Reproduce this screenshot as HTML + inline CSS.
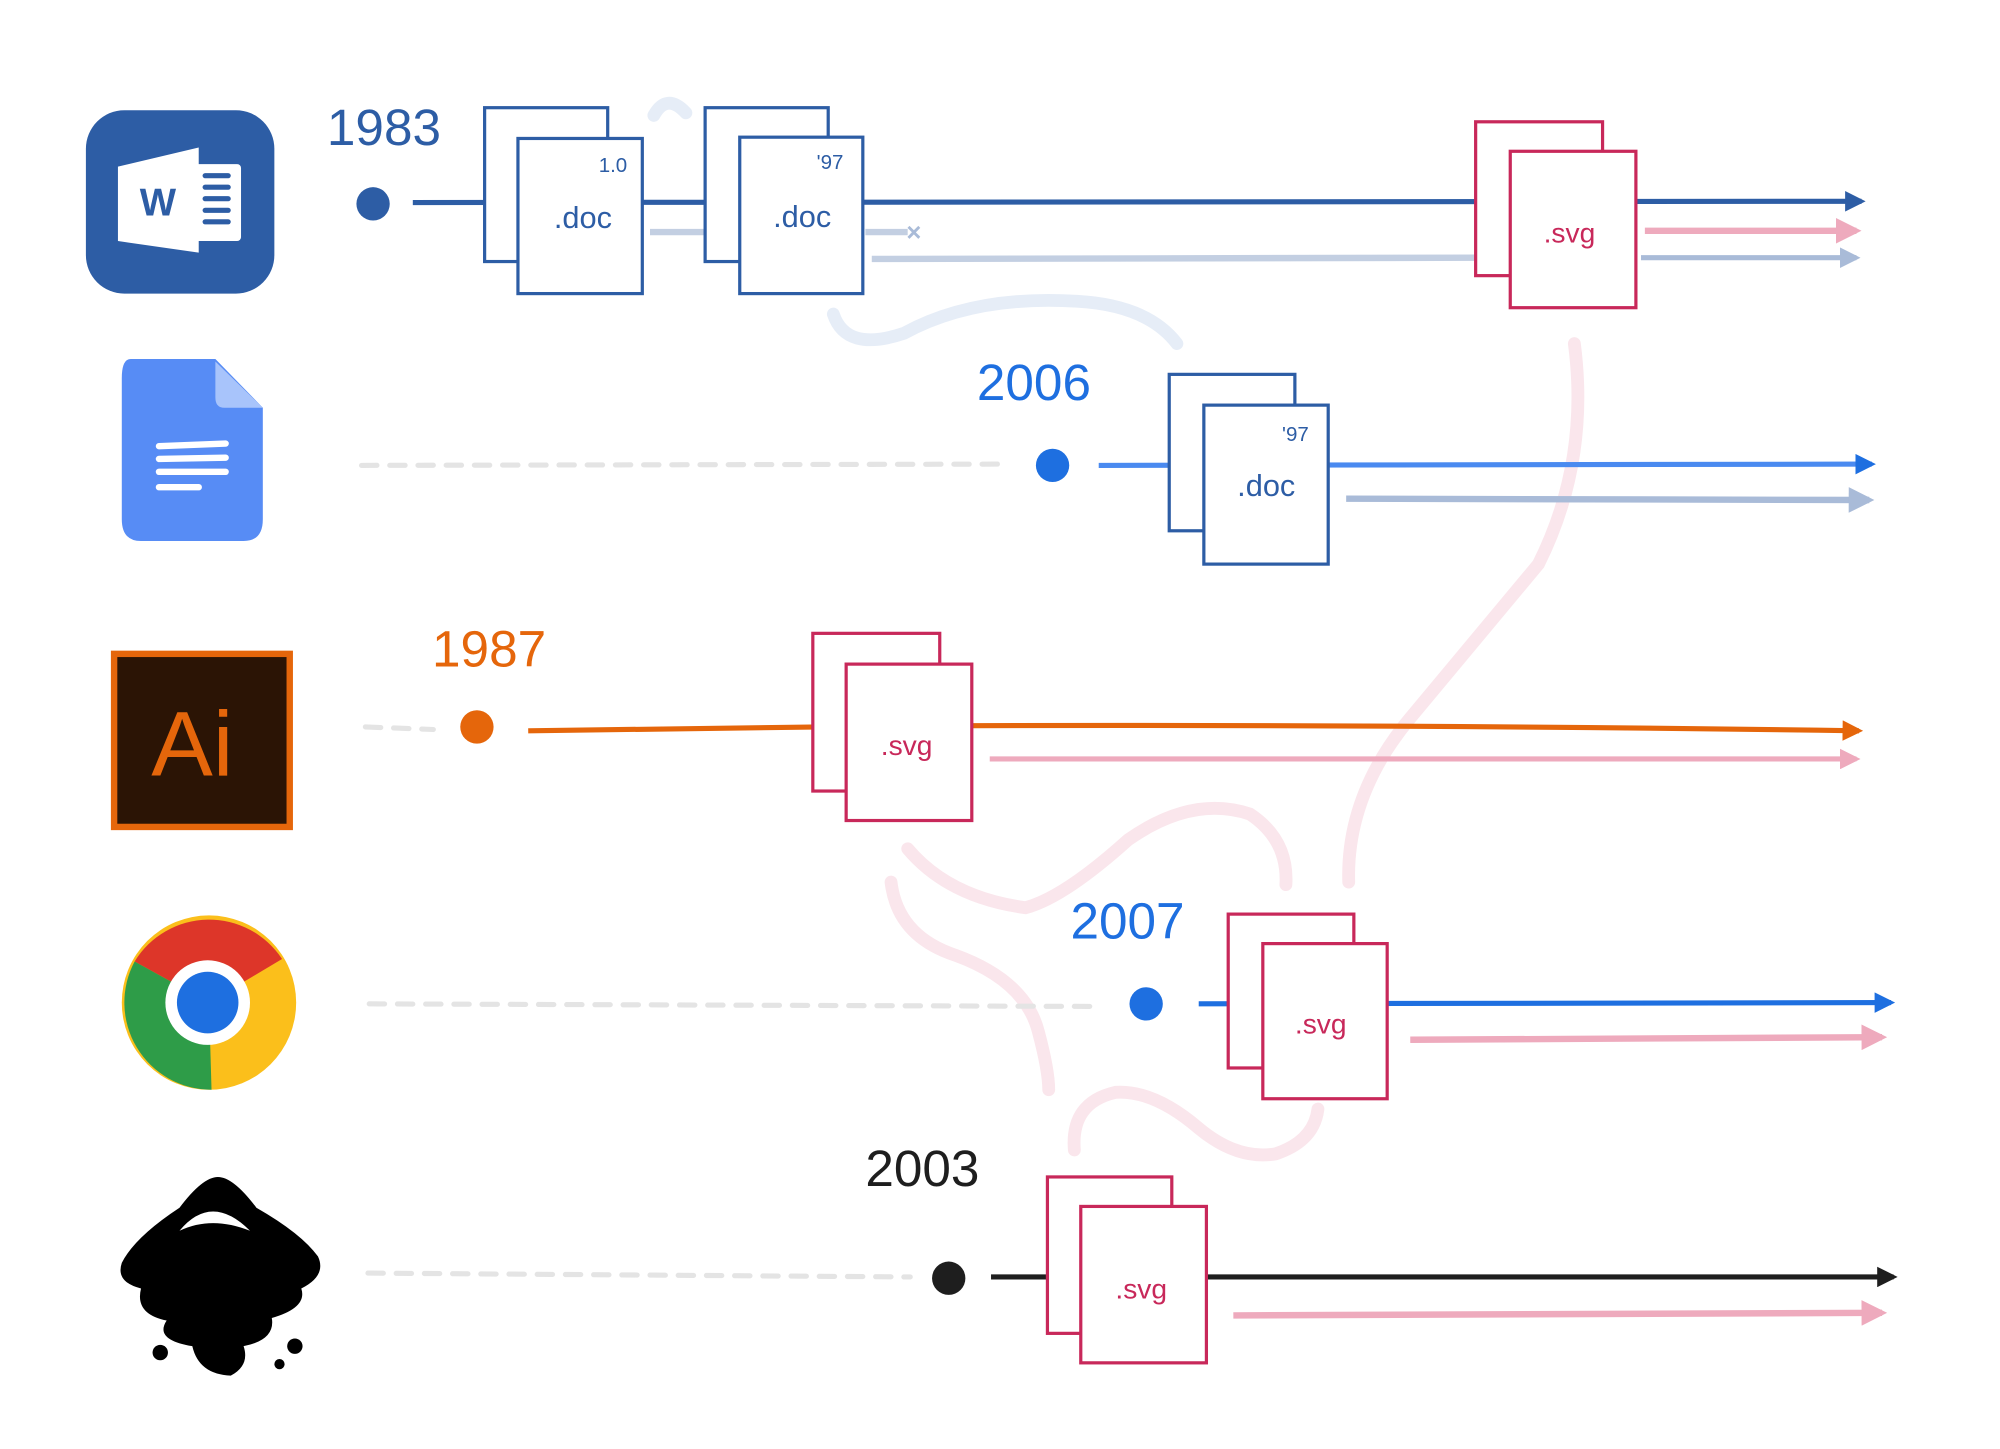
<!DOCTYPE html>
<html><head><meta charset="utf-8"><style>
html,body{margin:0;padding:0;background:#fff;width:2000px;height:1449px;overflow:hidden}
svg{display:block}
text{font-family:"Liberation Sans",sans-serif}
</style></head><body>
<svg width="2000" height="1449" viewBox="0 0 1560 1130.2" preserveAspectRatio="none" xmlns="http://www.w3.org/2000/svg">
<defs>
<marker id="aB" viewBox="0 0 10 10" refX="8" refY="5" markerWidth="4" markerHeight="4" orient="auto"><path d="M0,0 L10,5 L0,10 z" fill="#2d5da5"/></marker>
<marker id="aG" viewBox="0 0 10 10" refX="8" refY="5" markerWidth="4" markerHeight="4" orient="auto"><path d="M0,0 L10,5 L0,10 z" fill="#1e6fe0"/></marker>
<marker id="aO" viewBox="0 0 10 10" refX="8" refY="5" markerWidth="4" markerHeight="4" orient="auto"><path d="M0,0 L10,5 L0,10 z" fill="#e5660b"/></marker>
<marker id="aK" viewBox="0 0 10 10" refX="8" refY="5" markerWidth="4" markerHeight="4" orient="auto"><path d="M0,0 L10,5 L0,10 z" fill="#1e1e1e"/></marker>
<marker id="aFB" viewBox="0 0 10 10" refX="8" refY="5" markerWidth="4" markerHeight="4" orient="auto"><path d="M0,0 L10,5 L0,10 z" fill="#a9bbd8"/></marker>
<marker id="aFP" viewBox="0 0 10 10" refX="8" refY="5" markerWidth="4" markerHeight="4" orient="auto"><path d="M0,0 L10,5 L0,10 z" fill="#eeaabd"/></marker>
</defs>

<!-- faint connector curves -->
<g fill="none" stroke-linecap="round">
<path d="M510,90 Q520,72 535,88" stroke="#e6edf7" stroke-width="10"/>
<path d="M650,245 Q660,275 705,260 Q760,230 840,235 Q895,238 918,268" stroke="#e6edf7" stroke-width="10"/>
<path d="M1228,268 Q1240,360 1200,440 Q1150,500 1100,560 Q1050,620 1052,688" stroke="#fae6ec" stroke-width="10"/>
<path d="M708,662 Q740,700 800,708 Q830,700 880,655 Q930,620 975,635 Q1005,655 1003,690" stroke="#fae6ec" stroke-width="10"/>
<path d="M695,688 Q700,730 745,745 Q800,765 810,805 Q818,835 818,850" stroke="#fae6ec" stroke-width="10"/>
<path d="M838,897 Q835,860 870,852 Q900,850 935,880 Q965,905 995,900 Q1025,890 1028,865" stroke="#fae6ec" stroke-width="10"/>
</g>

<!-- dashed pre-lines -->
<g stroke="#e4e4e4" stroke-width="4" stroke-dasharray="12,10" fill="none" stroke-linecap="round">
<line x1="282" y1="363" x2="780" y2="362"/>
<line x1="285" y1="567" x2="338" y2="569"/>
<line x1="288" y1="783" x2="850" y2="785"/>
<line x1="287" y1="993" x2="710" y2="996"/>
</g>

<!-- Row 1: Word -->
<line x1="322" y1="158" x2="1452" y2="157" stroke="#2d5da5" stroke-width="4" marker-end="url(#aB)"/>
<line x1="507" y1="181" x2="552" y2="181" stroke="#c3cfe2" stroke-width="5"/>
<line x1="675" y1="181" x2="708" y2="181" stroke="#c3cfe2" stroke-width="5"/>
<text x="707" y="188" font-size="20" fill="#a9bbd8" font-weight="bold">×</text>
<line x1="680" y1="202" x2="1155" y2="201" stroke="#c3cfe2" stroke-width="5"/>
<line x1="1280" y1="201" x2="1448" y2="201" stroke="#a9bbd8" stroke-width="4" marker-end="url(#aFB)"/>
<line x1="1283" y1="180" x2="1448" y2="180" stroke="#eeaabd" stroke-width="5" marker-end="url(#aFP)"/>
<circle cx="291" cy="159" r="13" fill="#2d5da5"/>
<text x="255" y="113" font-size="40" fill="#2d5da5">1983</text>
<g fill="#fff" stroke="#2d5da5" stroke-width="2.5">
<rect x="378" y="84" width="96" height="120"/>
<rect x="404" y="108" width="97" height="121"/>
<rect x="550" y="84" width="96" height="120"/>
<rect x="577" y="107" width="96" height="122"/>
</g>
<text x="432" y="178" font-size="24" fill="#2d5da5">.doc</text>
<text x="467" y="134" font-size="16" fill="#2d5da5">1.0</text>
<text x="603" y="177" font-size="24" fill="#2d5da5">.doc</text>
<text x="637" y="132" font-size="16" fill="#2d5da5">'97</text>
<g fill="#fff" stroke="#c8285a" stroke-width="2.5">
<rect x="1151" y="95" width="99" height="120"/>
<rect x="1178" y="118" width="98" height="122"/>
</g>
<text x="1204" y="189" font-size="22" fill="#c8285a">.svg</text>

<!-- Word icon -->
<rect x="67" y="86" width="147" height="143" rx="30" fill="#2d5da5"/>
<path d="M92,130 L155,115 L155,197 L92,188 Z" fill="#fff"/>
<rect x="150" y="128" width="38" height="60" rx="3" fill="#fff"/>
<g stroke="#2d5da5" stroke-width="4" stroke-linecap="round"><line x1="160" y1="137" x2="178" y2="137"/><line x1="160" y1="146" x2="178" y2="146"/><line x1="160" y1="155" x2="178" y2="155"/><line x1="160" y1="164" x2="178" y2="164"/><line x1="160" y1="173" x2="178" y2="173"/></g>
<text x="109" y="168" font-size="30" font-weight="bold" fill="#2d5da5">W</text>

<!-- Row 2: Docs -->
<line x1="857" y1="363" x2="1460" y2="362" stroke="#4a8af0" stroke-width="4" marker-end="url(#aG)"/>
<line x1="1050" y1="389" x2="1458" y2="390" stroke="#a9bbd8" stroke-width="5" marker-end="url(#aFB)"/>
<circle cx="821" cy="363" r="13" fill="#1e6fe0"/>
<text x="762" y="312" font-size="40" fill="#1e6fe0">2006</text>
<g fill="#fff" stroke="#2d5da5" stroke-width="2.5">
<rect x="912" y="292" width="98" height="122"/>
<rect x="939" y="316" width="97" height="124"/>
</g>
<text x="965" y="387" font-size="24" fill="#2d5da5">.doc</text>
<text x="1000" y="344" font-size="16" fill="#2d5da5">'97</text>
<path d="M102,280 L168,280 L205,318 L205,405 Q205,422 190,422 L110,422 Q95,422 95,405 L95,295 Q95,280 102,280 Z" fill="#578cf5"/>
<path d="M168,282 L205,318 L175,318 Q168,318 168,310 Z" fill="#a8c4fb"/>
<g stroke="#fff" stroke-width="5" stroke-linecap="round"><line x1="124" y1="348" x2="176" y2="346"/><line x1="124" y1="358" x2="176" y2="357"/><line x1="124" y1="368" x2="176" y2="368"/><line x1="124" y1="380" x2="155" y2="380"/></g>

<!-- Row 3: Ai -->
<path d="M412,570 L640,567 L760,566 Q1100,565 1450,570" stroke="#e5660b" stroke-width="4" fill="none" marker-end="url(#aO)"/>
<line x1="772" y1="592" x2="1448" y2="592" stroke="#eeaabd" stroke-width="4" marker-end="url(#aFP)"/>
<circle cx="372" cy="567" r="13" fill="#e5660b"/>
<text x="337" y="520" font-size="40" fill="#e5660b">1987</text>
<g fill="#fff" stroke="#c8285a" stroke-width="2.5">
<rect x="634" y="494" width="99" height="123"/>
<rect x="660" y="518" width="98" height="122"/>
</g>
<text x="687" y="589" font-size="22" fill="#c8285a">.svg</text>
<rect x="89" y="510" width="137" height="135" fill="#2b1405" stroke="#e5660b" stroke-width="5"/>
<text x="118" y="605" font-size="72" fill="#e5660b">Ai</text>

<!-- Row 4: Chrome -->
<line x1="935" y1="783" x2="1475" y2="782" stroke="#1e6fe0" stroke-width="4" marker-end="url(#aG)"/>
<line x1="1100" y1="811" x2="1468" y2="809" stroke="#eeaabd" stroke-width="5" marker-end="url(#aFP)"/>
<circle cx="894" cy="783" r="13" fill="#1e6fe0"/>
<text x="835" y="732" font-size="40" fill="#1e6fe0">2007</text>
<g fill="#fff" stroke="#c8285a" stroke-width="2.5">
<rect x="958" y="713" width="98" height="120"/>
<rect x="985" y="736" width="97" height="121"/>
</g>
<text x="1010" y="806" font-size="22" fill="#c8285a">.svg</text>
<circle cx="163" cy="782" r="68" fill="#fbbf1b"/>
<path d="M163,782 L105,750 A68,68 0 0 1 220,748 Z" fill="#dd3629"/>
<path d="M163,782 L105,750 A68,68 0 0 0 165,850 Z" fill="#2e9c48"/>
<circle cx="162" cy="782" r="33" fill="#fff"/>
<circle cx="162" cy="782" r="24" fill="#1e6fe0"/>

<!-- Row 5: Inkscape -->
<line x1="773" y1="996" x2="1477" y2="996" stroke="#1e1e1e" stroke-width="4" marker-end="url(#aK)"/>
<line x1="962" y1="1026" x2="1468" y2="1024" stroke="#eeaabd" stroke-width="5" marker-end="url(#aFP)"/>
<circle cx="740" cy="997" r="13" fill="#1e1e1e"/>
<text x="675" y="925" font-size="40" fill="#1e1e1e">2003</text>
<g fill="#fff" stroke="#c8285a" stroke-width="2.5">
<rect x="817" y="918" width="97" height="122"/>
<rect x="843" y="941" width="98" height="122"/>
</g>
<text x="870" y="1013" font-size="22" fill="#c8285a">.svg</text>
<g fill="#000">
<path d="M170,918 Q158,918 140,942 Q105,965 95,985 Q90,1000 110,1005 Q105,1025 130,1030 Q120,1045 150,1050 Q155,1072 180,1073 Q195,1065 190,1050 Q215,1045 212,1028 Q240,1020 235,1005 Q255,995 248,980 Q235,962 200,942 Q182,918 170,918 Z"/>
<circle cx="125" cy="1055" r="6"/><circle cx="230" cy="1050" r="6"/><circle cx="218" cy="1064" r="4"/>
</g>
<path d="M140,960 Q165,930 195,960 Q165,948 140,960 Z" fill="#fff"/>
</svg>
</body></html>
